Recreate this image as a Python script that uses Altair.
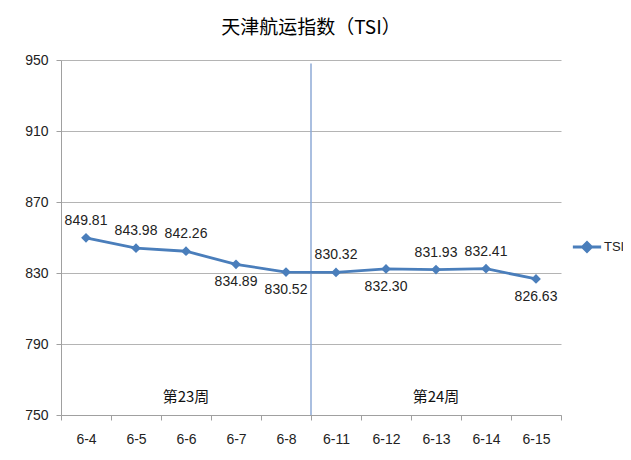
import altair as alt
import pandas as pd

categories = ["6-4", "6-5", "6-6", "6-7", "6-8", "6-11", "6-12", "6-13", "6-14", "6-15"]
values = [849.81, 843.98, 842.26, 834.89, 830.52, 830.32, 832.30, 831.93, 832.41, 826.63]
series_name = "TSI"
labels_below = ["6-7", "6-8", "6-12", "6-15"]
week_names = ["第23周", "第24周"]
week_centers = ["6-6", "6-13"]
week_label_level = [760, 760]
divider_category = "6-11"
y_ticks = [750, 790, 830, 870, 910, 950]
title_text = "天津航运指数（TSI）"

BLUE = "#4a7ebb"
NUM_FONT = "Liberation Sans"
CJK_FONT = "Noto Sans CJK SC"

df = pd.DataFrame({"date": categories, "value": values, "series": series_name})
df["pos"] = ["below" if c in labels_below else "above" for c in categories]
weeks_df = pd.DataFrame({"date": week_centers, "value": week_label_level, "name": week_names})
div_df = pd.DataFrame({"date": [divider_category]})

xscale = alt.Scale(type="band", domain=categories, paddingInner=0, paddingOuter=0)
yscale = alt.Scale(domain=[750, 950], nice=False, zero=False)

x_axis = alt.Axis(
    title=None, grid=False, tickBand="extent", labelAngle=0,
    domainColor="#a0a0a0", tickColor="#a0a0a0", tickSize=5,
    labelFont=NUM_FONT, labelFontSize=14, labelColor="#222222", labelPadding=12,
)
y_axis = alt.Axis(
    title=None, values=y_ticks, grid=True, gridColor="#b4b4b4",
    domainColor="#a0a0a0", tickColor="#a0a0a0", tickSize=5,
    labelFont=NUM_FONT, labelFontSize=14, labelColor="#222222", labelPadding=8,
)

X = alt.X("date:N", scale=xscale, axis=x_axis, bandPosition=0.5, sort=categories)
Y = alt.Y("value:Q", scale=yscale, axis=y_axis)

base = alt.Chart(df)

line = base.mark_line(strokeWidth=2.8, color=BLUE).encode(x=X, y=Y)

points = base.mark_point(shape="diamond", filled=True, size=95, opacity=1).encode(
    x=X, y=Y,
    color=alt.Color(
        "series:N", scale=alt.Scale(range=[BLUE]),
        legend=alt.Legend(
            title=None, orient="none", legendX=510, legendY=171, padding=0,
            symbolType="M-1,0L1,0M0,-0.32L0.32,0L0,0.32L-0.32,0Z",
            symbolSize=800, symbolStrokeWidth=2.8, symbolStrokeColor=BLUE,
            symbolFillColor=BLUE, labelLimit=40,
            labelFont=NUM_FONT, labelFontSize=13, labelColor="#222222", labelOffset=1,
        ),
    ),
)

labels_above = base.mark_text(
    dy=-17, font=NUM_FONT, fontSize=14, color="#222222"
).encode(x=X, y=Y, text=alt.Text("value:Q", format=".2f")).transform_filter(
    alt.datum.pos == "above"
)
labels_below_layer = base.mark_text(
    dy=18, font=NUM_FONT, fontSize=14, color="#222222"
).encode(x=X, y=Y, text=alt.Text("value:Q", format=".2f")).transform_filter(
    alt.datum.pos == "below"
)

divider = alt.Chart(div_df).mark_rule(color="#8eaad6", strokeWidth=1.5).encode(
    x=alt.X("date:N", scale=xscale, axis=x_axis, bandPosition=0, sort=categories),
    y=alt.datum(948),
    y2=alt.datum(750),
)

weeks = alt.Chart(weeks_df).mark_text(
    font=CJK_FONT, fontSize=15, color="#111111"
).encode(x=X, y=Y, text="name:N")

chart = alt.layer(divider, line, points, labels_above, labels_below_layer, weeks).properties(
    width=500, height=355,
    title=alt.Title(title_text, font=CJK_FONT, fontSize=19, fontWeight="normal",
                    color="#000000", offset=15, anchor="middle"),
    autosize=alt.AutoSizeParams(type="none"),
    padding={"left": 53, "top": 52, "right": 62, "bottom": 37},
    background="white",
).configure_view(stroke=None)

chart.save("out.html", embed_options={"renderer": "svg", "actions": False})
